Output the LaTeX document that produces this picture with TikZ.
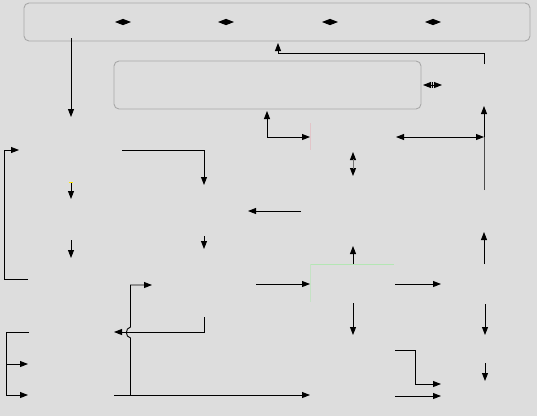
\documentclass[tikz,border=0pt]{standalone}
\usetikzlibrary{arrows.meta}
\definecolor{bg}{HTML}{DDDDDD}
\definecolor{boxline}{HTML}{A8A8A8}
\definecolor{faintpink}{HTML}{E2C4C8}
\definecolor{faintgreen}{HTML}{B4E6B4}
\begin{document}
\begin{tikzpicture}[x=1pt,y=-1pt,
  tip/.tip={Triangle[length=8pt,width=6pt]},
  conn/.style={line width=0.9pt,-tip},
  dbl/.style={line width=0.9pt,tip-tip},
  plain/.style={line width=0.9pt},
  panel/.style={draw=boxline,line width=0.9pt,rounded corners=5pt}]
\useasboundingbox (0,0) rectangle (537,416);
\fill[bg] (0,0) rectangle (537,416);
% panels
\draw[panel] (24,3) rectangle (530,41);
\draw[panel] (114,61) rectangle (421,109);
% diamonds in top panel
\foreach \cx/\nm in {123/d1,226/d2,330/d3,433/d4}{
  \coordinate (\nm a) at (\cx-8,22);
  \coordinate (\nm b) at (\cx+8,22);
  \draw[dbl] (\nm a) -- (\nm b);
}
% double arrow right of second panel
\coordinate (r1) at (423,85); \coordinate (r2) at (442,85);
\draw[dbl] (r1) -- (r2);
\draw[line width=0.6pt] (432.5,82) -- (432.5,88);
% faint artifacts
\draw[faintpink,line width=0.8pt] (310,123) -- (310,150);
\draw[faintgreen,line width=0.8pt] (394,264) -- (310,264);
\draw[faintgreen!60!bg,line width=0.8pt] (310,264) -- (310,302);
\draw[yellow!90!orange,line width=1pt] (69,182) -- (73,182);
\fill[orange!70] (121.5,149.5) rectangle (123,151);
% connectors top
\coordinate (a1s) at (71,38); \coordinate (a1e) at (71,117);
\draw[conn] (a1s) -- (a1e);
\coordinate (a2s) at (310,137); \coordinate (a2m) at (267,137); \coordinate (a2e) at (267,111);
\draw[conn] (a2m) -- (a2e);
\draw[conn] (a2m) -- (a2s);
\coordinate (a3s) at (484,64); \coordinate (a3m) at (484,53); \coordinate (a3n) at (278,53); \coordinate (a3e) at (278,43);
\draw[conn] (a3s) -- (a3m) -- (a3n) -- (a3e);
\coordinate (a4s) at (484,190); \coordinate (a4m) at (484,137); \coordinate (a4e) at (484,106);
\draw[plain,draw=black!70] (a4s) -- (a4m);
\draw[conn] (a4m) -- (a4e);
\coordinate (a5s) at (396,137); \coordinate (a5e) at (484,137);
\draw[dbl] (a5s) -- (a5e);
\coordinate (a6s) at (353,152); \coordinate (a6e) at (353,176);
\draw[dbl] (a6s) -- (a6e);
\draw[black!55,line width=0.9pt] (353,159) -- (353,169);
\coordinate (a7s) at (301,211); \coordinate (a7e) at (248,211);
\draw[conn] (a7s) -- (a7e);
\coordinate (a8s) at (353,264); \coordinate (a8e) at (353,246);
\draw[conn] (a8s) -- (a8e);
\coordinate (a9s) at (484,264); \coordinate (a9e) at (484,232);
\draw[conn] (a9s) -- (a9e);
% left
\coordinate (b1s) at (28,279); \coordinate (b1e) at (19,150);
\draw[conn] (b1s) -- (4,279) -- (4,150) -- (b1e);
\coordinate (b2s) at (122,150); \coordinate (b2e) at (204,185);
\draw[conn] (b2s) -| (b2e);
\coordinate (b3s) at (71,183); \coordinate (b3e) at (71,199);
\draw[conn] (b3s) -- (b3e);
\coordinate (b4s) at (71,240); \coordinate (b4e) at (71,258);
\draw[conn] (b4s) -- (b4e);
\coordinate (b5s) at (204,236); \coordinate (b5e) at (204,249);
\draw[conn] (b5s) -- (b5e);
% bottom left
\coordinate (c1s) at (114,395); \coordinate (c1e) at (310,395);
\draw[conn] (c1s) -- (c1e);
\coordinate (c2s) at (130.5,395); \coordinate (c2e) at (152,285);
\draw[conn] (c2s) -- (130.5,338) .. controls (125,337) and (125,328) .. (130.5,327) -- (130.5,285) -- (c2e);
\coordinate (c3s) at (204,317); \coordinate (c3e) at (114,332);
\draw[conn] (c3s) -- (204,332) -- (c3e);
\coordinate (c4s) at (29,332); \coordinate (c4j) at (6,364);
\coordinate (c4e) at (28,395); \coordinate (c5e) at (28,364);
\draw[conn] (c4s) -- (6,332) -- (6,395) -- (c4e);
\draw[conn] (c4j) -- (c5e);
% bottom right
\coordinate (e1s) at (256,284); \coordinate (e1e) at (310,284);
\draw[conn] (e1s) -- (e1e);
\coordinate (e2s) at (395,284); \coordinate (e2e) at (441,284);
\draw[conn] (e2s) -- (e2e);
\coordinate (e3s) at (353,303); \coordinate (e3e) at (353,335);
\draw[conn] (e3s) -- (e3e);
\coordinate (e4s) at (485,304); \coordinate (e4e) at (485,335);
\draw[conn] (e4s) -- (e4e);
\coordinate (e5s) at (395,350); \coordinate (e5e) at (441,384);
\draw[conn] (e5s) -- (415,350) -- (415,384) -- (e5e);
\coordinate (e6s) at (485,363); \coordinate (e6e) at (485,381);
\draw[conn] (e6s) -- (e6e);
\coordinate (e7s) at (395,396); \coordinate (e7e) at (441,396);
\draw[conn] (e7s) -- (e7e);
\end{tikzpicture}
\end{document}
